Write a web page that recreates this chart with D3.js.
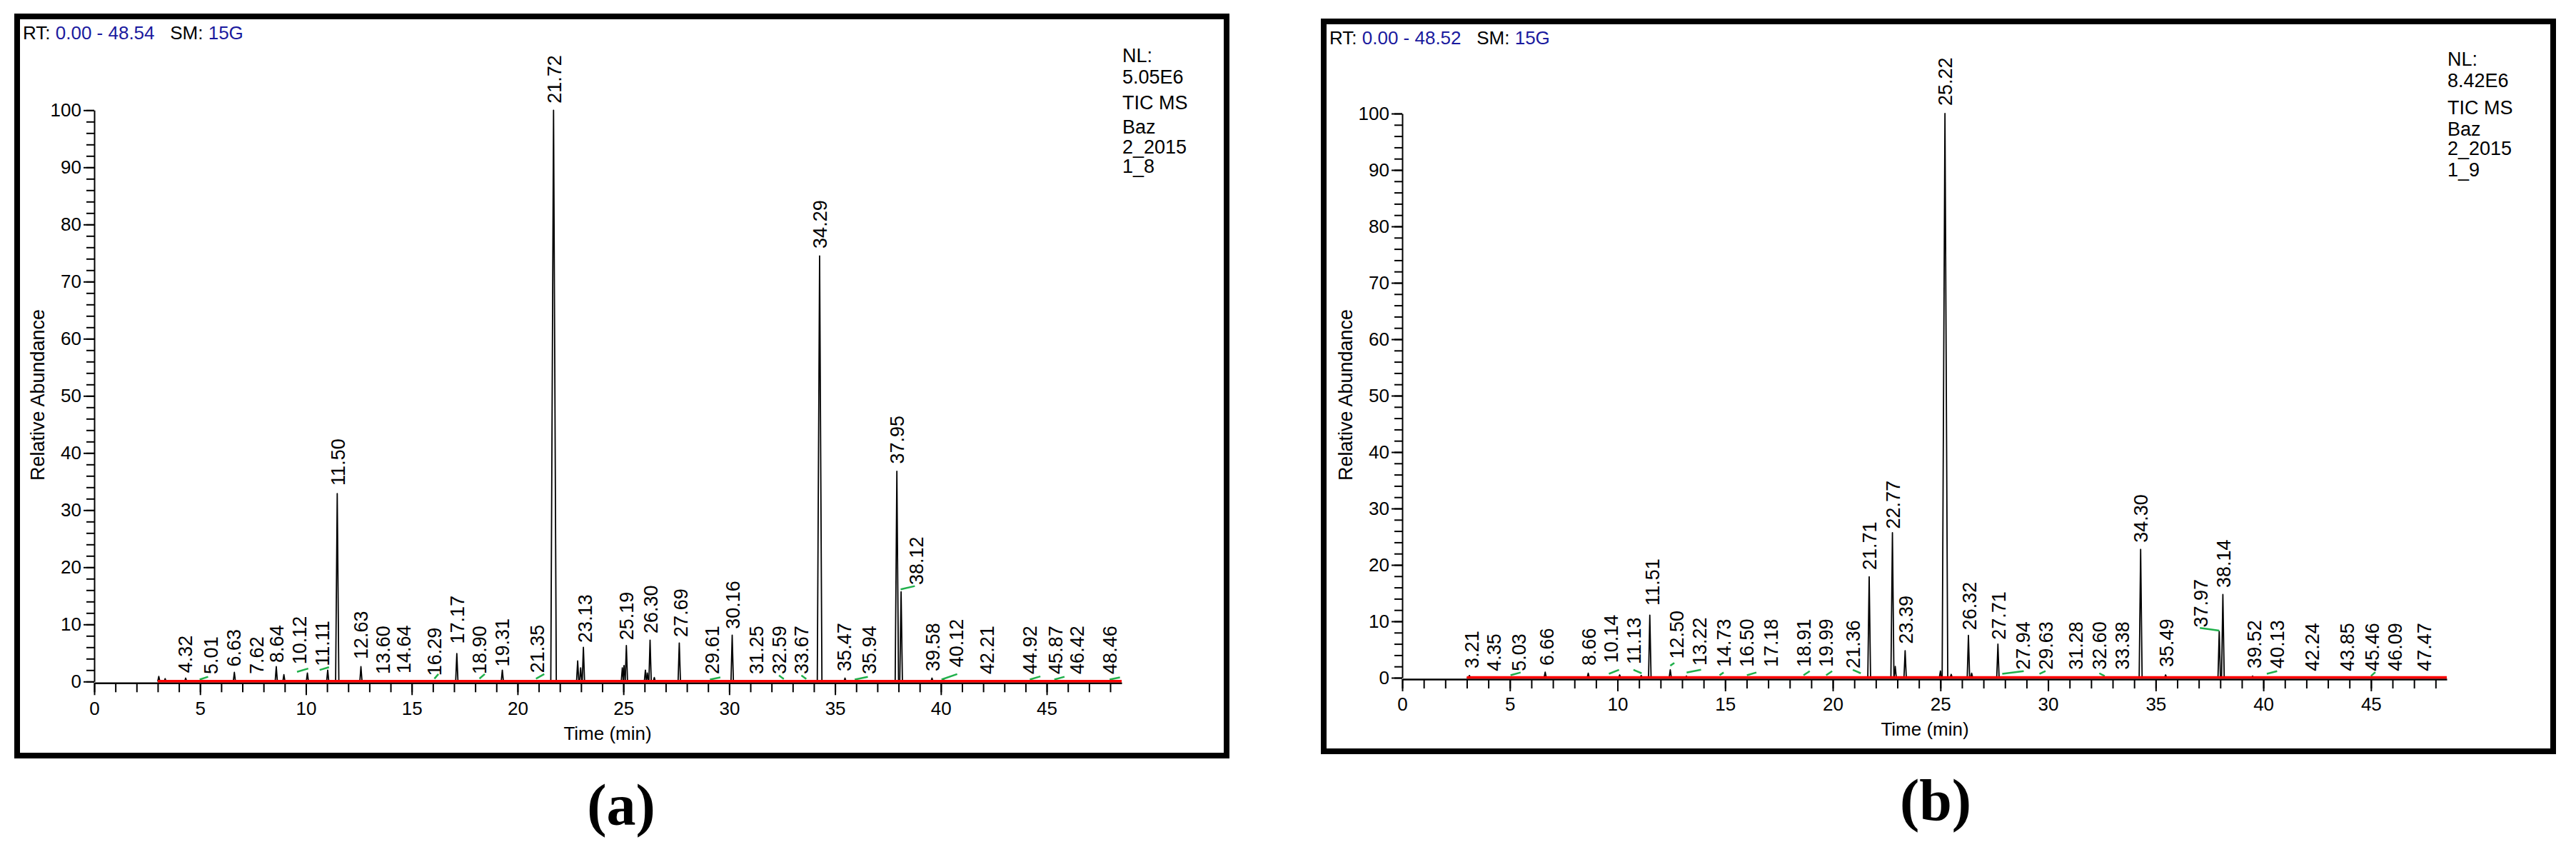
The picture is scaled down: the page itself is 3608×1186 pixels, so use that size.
<!DOCTYPE html>
<html><head><meta charset="utf-8">
<script src="https://cdn.jsdelivr.net/npm/d3@7"></script>
<style>
body{margin:0;background:#fff}
svg{display:block;background:#fff}
text{font-family:"Liberation Sans",Arial,sans-serif}
text.cap{font-family:"Liberation Serif","Times New Roman",serif;font-weight:bold}
</style>
</head><body>
<svg id="chart" width="3608" height="1186"></svg>
<script>
// ---------------- data ----------------
const xMajorTicks = [0,5,10,15,20,25,30,35,40,45];
const yMajorTicks = [0,10,20,30,40,50,60,70,80,90,100];
const rtRangeA = [0, 48.54];
const rtRangeB = [0, 48.52];
const traceStart = 3.0;
const rtHeaderA = ["0.00 - 48.54", "15G"];
const rtHeaderB = ["0.00 - 48.52", "15G"];
const infoA = ["NL:", "5.05E6", "TIC MS", "Baz", "2_2015", "1_8"];
const infoB = ["NL:", "8.42E6", "TIC MS", "Baz", "2_2015", "1_9"];
const captions = ["(a)", "(b)"];

// peaks: [retention time (min), relative abundance (%)]
const peaksA = [
  [3.05,0.9],[3.35,0.5],[4.32,0.6],[6.62,1.6],[8.60,2.6],[8.96,1.2],[10.07,1.5],[11.03,2.0],
  [11.48,32.9],[12.60,2.6],[17.13,4.9],[19.28,2.0],[21.70,100],[22.84,3.6],[22.98,2.4],[23.11,6.0],
  [24.95,2.4],[25.03,2.8],[25.14,6.3],[26.04,2.0],[26.13,1.5],[26.26,7.25],[26.46,0.7],[27.64,6.75],
  [30.14,8.1],[34.27,74.5],[35.47,0.6],[37.92,36.8],[38.12,15.7],[39.58,0.6],[40.12,0.4]
];
const peaksB = [
  [3.12,0.4],[6.64,1.0],[8.64,0.8],[10.10,0.5],[11.10,0.4],[11.50,11.1],[12.45,1.4],[13.20,0.3],
  [21.69,17.9],[22.77,25.7],[22.90,2.0],[23.36,4.8],[25.00,1.2],[25.21,100],[25.50,0.6],[26.30,7.5],
  [26.45,0.8],[27.67,5.95],[34.30,22.75],[35.46,0.5],[37.95,8.2],[38.12,14.75],[39.50,0.3]
];

// peak labels: [text, label anchor time (min), label start (%)]
const labelsA = [
  ["4.32",4.28,1.5],["5.01",5.5,1.3],["6.63",6.6,2.6],["7.62",7.65,1.3],["8.64",8.62,3.3],
  ["10.12",9.7,3.0],["11.11",10.76,2.7],["11.50",11.52,34.3],["12.63",12.58,3.9],["13.60",13.65,1.3],
  ["14.64",14.62,1.4],["16.29",16.07,1.0],["17.17",17.13,6.6],["18.90",18.2,1.3],["19.31",19.26,2.6],
  ["21.35",20.91,1.5],["21.72",21.72,101.2],["23.13",23.17,6.8],["25.19",25.13,7.25],["26.30",26.3,8.4],
  ["27.69",27.7,7.8],["29.61",29.19,1.3],["30.16",30.16,9.2],["31.25",31.27,1.3],["32.59",32.35,1.3],
  ["33.67",33.41,1.3],["34.29",34.27,75.8],["35.47",35.43,1.8],["35.94",36.61,1.3],["37.95",37.94,38.1],
  ["38.12",38.84,16.9],["39.58",39.61,1.8],["40.12",40.71,2.5],["42.21",42.16,1.3],["44.92",44.2,1.3],
  ["45.87",45.41,1.3],["46.42",46.43,1.3],["48.46",47.97,1.3]
];
const labelsB = [
  ["3.21",3.22,1.66],["4.35",4.26,1.18],["5.03",5.41,1.18],["6.66",6.7,2.15],["8.66",8.68,2.15],
  ["10.14",9.69,2.63],["11.13",10.74,2.39],["11.51",11.6,12.8],["12.50",12.74,3.36],["13.22",13.79,2.15],
  ["14.73",14.93,1.9],["16.50",16.01,1.9],["17.18",17.12,1.9],["18.91",18.64,1.9],["19.99",19.69,1.9],
  ["21.36",20.93,1.66],["21.71",21.69,19.1],["22.77",22.79,26.4],["23.39",23.4,6.02],["25.22",25.22,101.4],
  ["26.32",26.33,8.45],["27.71",27.71,6.75],["27.94",28.83,1.42],["29.63",29.88,1.42],["31.28",31.29,1.42],
  ["32.60",32.38,1.42],["33.38",33.44,1.42],["34.30",34.3,23.95],["35.49",35.51,1.9],["37.97",37.09,8.93],
  ["38.14",38.14,15.95],["39.52",39.58,1.66],["40.13",40.64,1.66],["42.24",42.27,1.18],["43.85",43.9,1.18],
  ["45.46",45.05,1.18],["46.09",46.11,1.18],["47.47",47.46,1.18]
];

// green label connectors: [t1, v1, t2, v2]
const greenA = [
  [4.98,0.35,5.38,0.83],[9.58,1.69,10.11,2.27],[10.65,2.02,11.09,2.5],[16.07,0.5,16.26,1.3],
  [18.2,0.5,18.45,1.3],[20.87,0.5,21.26,1.3],[29.09,0.35,29.58,0.73],[32.35,1.07,32.58,0.45],
  [33.41,1.07,33.64,0.45],[35.93,0.35,36.55,0.83],[38.1,16.14,38.77,16.71],[40.03,0.35,40.77,1.3],
  [44.2,0.35,44.7,0.9],[45.36,0.35,45.84,0.83],[47.97,0.35,48.46,0.73]
];
const greenB = [
  [5.03,0.45,5.5,0.93],[9.6,0.7,10.07,1.4],[10.74,1.4,11.12,0.79],[12.45,2.14,12.64,2.63],
  [13.21,0.93,13.88,1.42],[14.74,0.45,14.93,0.93],[16.01,0.45,16.45,0.93],[18.64,0.45,18.93,1.18],
  [19.69,0.45,19.97,1.18],[20.93,1.4,21.3,0.79],[27.87,0.69,28.87,1.18],[29.6,0.69,29.88,1.18],
  [32.38,0.79,32.63,0.3],[37.05,8.83,37.95,8.35],[40.16,0.69,40.64,1.18],[45.0,0.3,45.2,1.0]
];

// ---------------- layout ----------------
const panels = [
  {box:[20,19,1722,1062], left:132, right:1571, y0:954.3, y100:154.3, range:rtRangeA,
   rt:rtHeaderA, rtPos:[32,55], info:infoA, infoX:1572, infoY:[87,117,153,187,215,242],
   yLab:[62,553], xLab:[851,1036], cap:[870,1155], caption:captions[0],
   peaks:peaksA, labels:labelsA, green:greenA},
  {box:[1850,26,3580,1056], left:1964, right:3427, y0:949, y100:159, range:rtRangeB,
   rt:rtHeaderB, rtPos:[1862,62], info:infoB, infoX:3428, infoY:[92,122,160,190,217,247],
   yLab:[1894,553], xLab:[2696,1030], cap:[2711,1148], caption:captions[1],
   peaks:peaksB, labels:labelsB, green:greenB}
];

const svg = d3.select("#chart");
svg.append("rect").attr("width",3608).attr("height",1186).attr("fill","#fff");

panels.forEach(p => {
  const g = svg.append("g");
  const [bx0,by0,bx1,by1] = p.box;
  const bw = 8;
  g.append("rect").attr("x",bx0+bw/2).attr("y",by0+bw/2)
    .attr("width",bx1-bx0-bw).attr("height",by1-by0-bw)
    .attr("fill","none").attr("stroke","#000").attr("stroke-width",bw);

  const x = d3.scaleLinear().domain(p.range).range([p.left,p.right]);
  const y = d3.scaleLinear().domain([0,100]).range([p.y0,p.y100]);

  // header
  const rt = g.append("text").attr("x",p.rtPos[0]).attr("y",p.rtPos[1])
    .attr("font-size",26).style("white-space","pre");
  rt.append("tspan").attr("fill","#000").text("RT: ");
  rt.append("tspan").attr("fill","#1a1a9e").text(p.rt[0]);
  rt.append("tspan").attr("fill","#000").text("   SM: ");
  rt.append("tspan").attr("fill","#1a1a9e").text(p.rt[1]);

  // info block
  p.info.forEach((s,i)=>{
    g.append("text").attr("x",p.infoX).attr("y",p.infoY[i]).attr("font-size",27)
      .style("white-space","pre").text(s);
  });

  // trace: baseline + narrow peaks
  const line = d3.line().x(d=>x(d[0])).y(d=>y(d[1]));
  g.append("path").datum([[traceStart,0],[p.range[1],0]]).attr("d",line)
    .attr("stroke","#000").attr("stroke-width",2).attr("fill","none");
  g.selectAll("path.pk").data(p.peaks).enter().append("path").attr("class","pk")
    .attr("d",d=>{const w=0.05+0.0008*d[1]; return line([[d[0]-w,0],[d[0],d[1]],[d[0]+w,0]]);})
    .attr("fill","none").attr("stroke","#000").attr("stroke-width",1.8)
    .attr("stroke-linejoin","round");

  // green connectors
  g.selectAll("line.gr").data(p.green).enter().append("line").attr("class","gr")
    .attr("x1",d=>x(d[0])).attr("y1",d=>y(d[1])).attr("x2",d=>x(d[2])).attr("y2",d=>y(d[3]))
    .attr("stroke","#1fb04a").attr("stroke-width",2.5);

  // x axis
  const xg = g.append("g").attr("transform",`translate(0,${p.y0+2})`);
  xg.call(d3.axisBottom(x).tickValues(d3.range(0,Math.floor(p.range[1])+1)).tickSize(13).tickSizeOuter(0).tickFormat(""));
  xg.select(".domain").attr("stroke-width",2.5);
  const xg2 = g.append("g").attr("transform",`translate(0,${p.y0+2})`);
  xg2.call(d3.axisBottom(x).tickValues(xMajorTicks).tickSize(17).tickSizeOuter(0).tickPadding(9));
  xg2.select(".domain").remove();
  [xg,xg2].forEach(a=>a.selectAll(".tick line").attr("stroke-width",2));
  xg2.selectAll(".tick text").attr("font-size",26).style("font-family","'Liberation Sans', Arial, sans-serif").attr("fill","#000");

  // red baseline
  g.append("path").datum([[traceStart,0],[p.range[1],0]])
    .attr("d",d3.line().x(d=>x(d[0])).y(d=>y(d[1])-0.5))
    .attr("stroke","#ff0000").attr("stroke-width",3.5).attr("fill","none");

  // y axis
  const yg = g.append("g").attr("transform",`translate(${p.left},0)`);
  yg.call(d3.axisLeft(y).tickValues(d3.range(0,101,2)).tickSize(11).tickSizeOuter(0).tickFormat(""));
  yg.select(".domain").attr("stroke-width",2);
  const yg2 = g.append("g").attr("transform",`translate(${p.left},0)`);
  yg2.call(d3.axisLeft(y).tickValues(yMajorTicks).tickSize(15).tickSizeOuter(0).tickPadding(3));
  yg2.select(".domain").remove();
  [yg,yg2].forEach(a=>a.selectAll(".tick line").attr("stroke-width",2));
  yg2.selectAll(".tick text").attr("font-size",26).style("font-family","'Liberation Sans', Arial, sans-serif").attr("fill","#000");

  // axis titles
  g.append("text").attr("transform",`translate(${p.yLab[0]},${p.yLab[1]}) rotate(-90)`)
    .attr("text-anchor","middle").attr("font-size",27).text("Relative Abundance");
  g.append("text").attr("x",p.xLab[0]).attr("y",p.xLab[1])
    .attr("text-anchor","middle").attr("font-size",26).text("Time (min)");

  // peak labels
  g.selectAll("text.lb").data(p.labels).enter().append("text").attr("class","lb")
    .attr("transform",d=>`translate(${x(d[1])},${y(d[2])}) rotate(-90)`)
    .attr("dy","0.36em").attr("font-size",27).attr("text-anchor","start").text(d=>d[0]);

  // caption
  svg.append("text").attr("class","cap").attr("x",p.cap[0]).attr("y",p.cap[1])
    .attr("text-anchor","middle").attr("font-size",82).text(p.caption);
});
</script>
</body></html>
